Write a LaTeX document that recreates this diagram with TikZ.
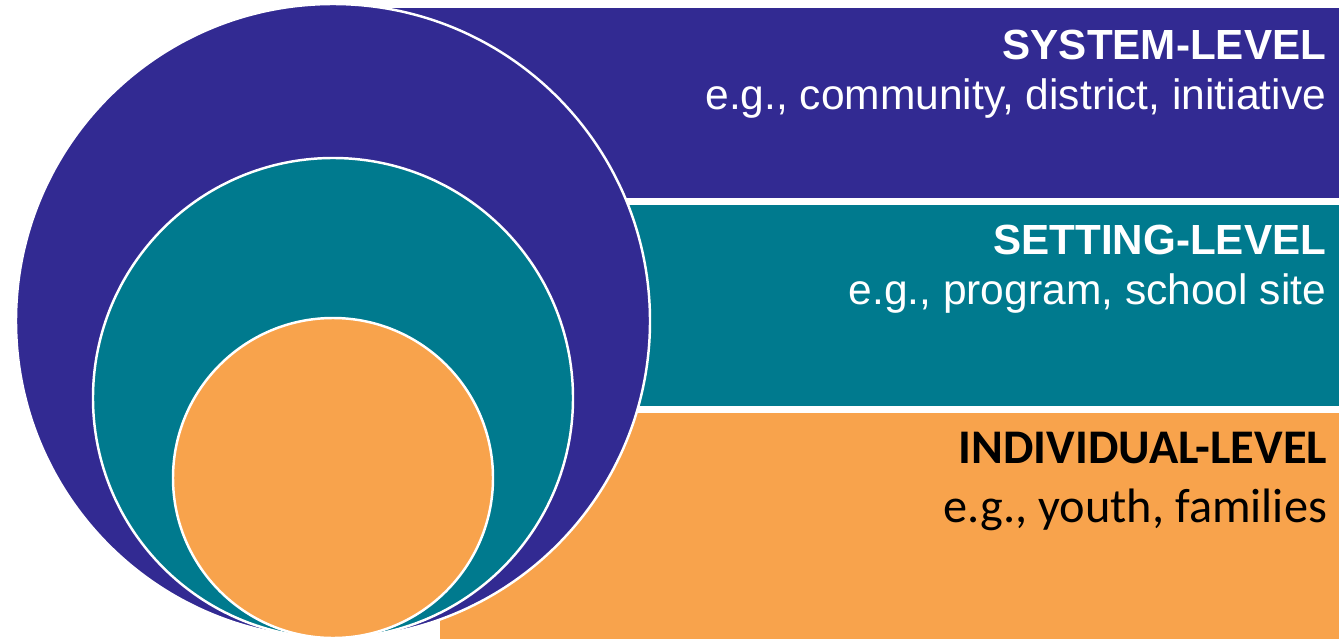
\documentclass[tikz,border=0pt]{standalone}
\usepackage{fontspec}
\newfontfamily\arialfont{Liberation Sans}
\newfontfamily\calibrifont{Carlito}
\usetikzlibrary{positioning}
\definecolor{sysblue}{RGB}{50,42,146}
\definecolor{setteal}{RGB}{0,122,142}
\definecolor{indorange}{RGB}{248,163,76}

\begin{document}
\begin{tikzpicture}[% styles used in image code
   x = 0.02cm, y = -0.02cm, % one unit is one pixel of the reference
band/.style = {draw=none},
ring/.style = {draw=white, line width=1.4pt},
level/.style = {anchor=base east, inner sep=0pt, outer sep=0pt,
                font=\arialfont\bfseries\fontsize{24}{28}\selectfont},
eg/.style    = {anchor=base east, inner sep=0pt, outer sep=0pt,
                font=\arialfont\fontsize{24.2}{28}\selectfont},
clevel/.style = {anchor=base east, inner sep=0pt, outer sep=0pt,
                font=\calibrifont\bfseries\fontsize{27.5}{32}\selectfont},
ceg/.style   = {anchor=base east, inner sep=0pt, outer sep=0pt,
                font=\calibrifont\fontsize{27.5}{32}\selectfont}
                        ]
	\useasboundingbox (0,0) rectangle (1339,639);

	% bands behind the circles
	\fill[band, sysblue]   (333,8)   rectangle (1339,198);
	\fill[band, setteal]   (333,205) rectangle (1339,406);
	\fill[band, indorange] (440,413) rectangle (1339,639);

	% nested circles, all touching at the bottom
	\coordinate (Csys) at (333,321);
	\coordinate (Cset) at (333,398);
	\coordinate (Cind) at (333,478);
	\filldraw[ring, fill=sysblue]   (Csys) circle (317);
	\filldraw[ring, fill=setteal]   (Cset) circle (240);
	\filldraw[ring, fill=indorange] (Cind) circle (160);

	% labels
	\node[level, text=white] (syslevel) at (1326,59)  {SYSTEM-LEVEL};
	\node[eg, text=white]    (syseg)    at (1326,109) {e.g., community, district, initiative};
	\node[level, text=white] (setlevel) at (1326,254) {SETTING-LEVEL};
	\node[eg, text=white]    (seteg)    at (1326,304) {e.g., program, school site};
	\node[clevel, text=black] (indlevel) at (1327,463) {INDIVIDUAL-LEVEL};
	\node[ceg, text=black]    (indeg)    at (1327,522) {e.g., youth, families};
\end{tikzpicture}
\end{document}
